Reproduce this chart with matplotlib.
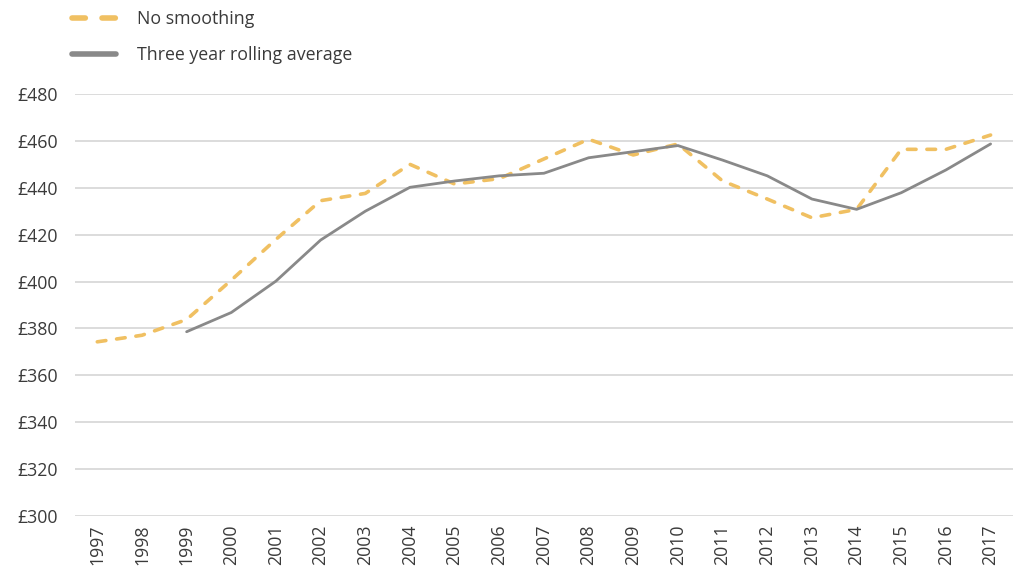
import matplotlib
matplotlib.use("Agg")
import matplotlib.pyplot as plt
import numpy as np

plt.rcParams['font.family'] = ['Open Sans', 'DejaVu Sans']

years = [str(y) for y in range(1997, 2018)]
no_smoothing = [374.3, 377.1, 383.8, 400.6, 418.0, 434.5, 437.6, 450.0, 441.6, 443.9,
                452.3, 460.7, 454.0, 458.7, 442.9, 435.2, 427.2, 430.8, 456.4, 456.4, 462.5]
rolling_avg = [np.nan, np.nan, 378.6, 386.8, 400.2, 417.7, 430.0, 440.2, 442.9, 445.1,
               446.2, 452.8, 455.4, 458.0, 451.8, 445.1, 435.2, 430.8, 437.9, 447.6, 458.7]
y_ticks = list(range(300, 481, 20))
y_tick_labels = [f"£{v}" for v in y_ticks]

text_color = '#3a3a3a'
yellow = '#F0C062'
gray = '#898989'

fig = plt.figure(figsize=(10.17, 5.69), dpi=100)
ax = fig.add_axes([0.0737, 0.0931, 0.9223, 0.7417])

x = np.arange(len(years))
ax.plot(x, no_smoothing, color=yellow, lw=2.6, linestyle=(0, (2.4, 3.0)),
        dash_capstyle='round', label='No smoothing', zorder=3)
ax.plot(x, rolling_avg, color=gray, lw=2.0, solid_capstyle='round',
        label='Three year rolling average', zorder=4)

ax.set_xlim(-0.5, len(years) - 0.5)
ax.set_ylim(300, 480)
ax.set_yticks(y_ticks)
ax.set_yticklabels(y_tick_labels)
ax.set_xticks(x)
ax.set_xticklabels(years, rotation=90)
ax.tick_params(axis='both', length=0, labelsize=12.8, colors=text_color)
ax.tick_params(axis='y', pad=12)
ax.tick_params(axis='x', pad=6)
ax.grid(axis='y', color='#d9d9d9', lw=1.3)
ax.set_axisbelow(True)
for s in ax.spines.values():
    s.set_visible(False)

leg = fig.legend(loc='upper left', bbox_to_anchor=(0.055, 1.011), frameon=False,
                 fontsize=12.8, handlelength=2.5, handletextpad=1.15, labelspacing=1.05,
                 labelcolor=text_color)
for h in leg.get_lines():
    h.set_linewidth(4.0)

fig.savefig('out.png', dpi=100)
